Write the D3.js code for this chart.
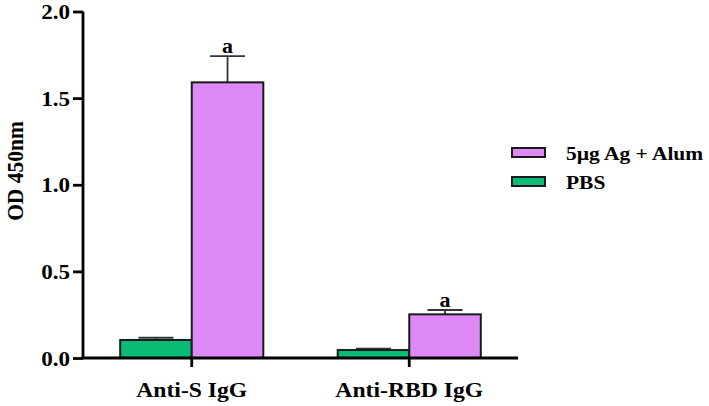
<!DOCTYPE html>
<html>
<head>
<meta charset="utf-8">
<script src="https://cdn.jsdelivr.net/npm/d3@7"></script>
<style>
  html, body { margin: 0; padding: 0; background: #fff; }
  svg { display: block; }
  text { font-family: "Liberation Serif", "Times New Roman", serif; font-weight: bold; fill: #000; }
</style>
</head>
<body>
<svg id="chart" width="709" height="406"></svg>
<script>
// ---- data ----
const categories = ["Anti-S IgG", "Anti-RBD IgG"];
const seriesNames = ["PBS", "5µg Ag + Alum"];
const pbsValues = [0.104, 0.046];
const pbsErrors = [0.013, 0.008];
const agValues = [1.591, 0.252];
const agErrors = [0.152, 0.025];
const sigLabels = ["a", "a"];
const yTicks = [0, 0.5, 1.0, 1.5, 2.0];
const yLabel = "OD 450nm";
const legendOrder = ["5µg Ag + Alum", "PBS"];

const colors = { "PBS": "#08bc78", "5µg Ag + Alum": "#dd89f6" };
const SX = 1.1; // horizontal stretch of the original figure's text

const svg = d3.select("#chart");
const plotLeft = 83, plotRight = 518, plotTop = 11.5, plotBottom = 358;

const x = d3.scaleBand().domain(categories).range([plotLeft, plotRight]).paddingInner(0.342).paddingOuter(0.171);
const xs = d3.scaleBand().domain(seriesNames).range([0, x.bandwidth()]).padding(0);
const y = d3.scaleLinear().domain([0, 2]).range([plotBottom, plotTop]);

const rows = categories.map((c, i) => ({
  cat: c,
  items: [
    { s: "PBS", v: pbsValues[i], e: pbsErrors[i] },
    { s: "5µg Ag + Alum", v: agValues[i], e: agErrors[i], sig: sigLabels[i] }
  ]
}));

// bars
const g = svg.append("g");
rows.forEach(r => {
  r.items.forEach(d => {
    const bx = x(r.cat) + xs(d.s);
    const cx = bx + xs.bandwidth() / 2;
    const capW = 35;
    g.append("line").attr("x1", cx).attr("x2", cx)
      .attr("y1", y(d.v)).attr("y2", y(d.v + d.e))
      .attr("stroke", "#333").attr("stroke-width", 1.8);
    g.append("line").attr("x1", cx - capW / 2).attr("x2", cx + capW / 2)
      .attr("y1", y(d.v + d.e)).attr("y2", y(d.v + d.e))
      .attr("stroke", "#333").attr("stroke-width", 1.8);
    g.append("rect")
      .attr("x", bx).attr("y", y(d.v))
      .attr("width", xs.bandwidth()).attr("height", y(0) - y(d.v))
      .attr("fill", colors[d.s]).attr("stroke", "#1a1a1a").attr("stroke-width", 2);
    if (d.sig) {
      g.append("text")
        .attr("transform", `translate(${cx},${y(d.v + d.e) - 3.5}) scale(${SX},1)`)
        .attr("text-anchor", "middle").attr("font-size", 20).text(d.sig);
    }
  });
});

// y axis
const yAxis = svg.append("g").attr("transform", `translate(${plotLeft},0)`)
  .call(d3.axisLeft(y).tickValues(yTicks).tickFormat(d3.format(".1f")).tickSize(10).tickPadding(3));
yAxis.select(".domain").attr("stroke", "#000").attr("stroke-width", 2.8)
  .attr("d", `M0,${plotTop}V${plotBottom}`);
yAxis.selectAll(".tick line").attr("stroke", "#000").attr("stroke-width", 2.8);
yAxis.selectAll(".tick text")
  .attr("font-family", "'Liberation Serif', 'Times New Roman', serif")
  .attr("font-weight", "bold").attr("font-size", 21).attr("fill", "#000")
  .attr("x", -13 / SX).attr("dy", "0.34em")
  .attr("transform", `scale(${SX},1)`);

// x axis
const xAxis = svg.append("g").attr("transform", `translate(0,${plotBottom})`)
  .call(d3.axisBottom(x).tickSize(9).tickPadding(0).tickFormat(""));
xAxis.select(".domain").attr("stroke", "#000").attr("stroke-width", 2.8)
  .attr("d", `M${plotLeft - 1.4},0H${plotRight}`);
xAxis.selectAll(".tick line").attr("stroke", "#000").attr("stroke-width", 2.8);
categories.forEach(c => {
  svg.append("text")
    .attr("transform", `translate(${x(c) + x.bandwidth() / 2},397) scale(${SX},1)`)
    .attr("text-anchor", "middle").attr("font-size", 21.5).text(c);
});

// y label
svg.append("text")
  .attr("transform", `translate(23,171) rotate(-90) scale(1,${SX})`)
  .attr("text-anchor", "middle").attr("font-size", 21.5).text(yLabel);

// legend
const legend = svg.append("g");
legendOrder.forEach((s, i) => {
  const ly = 148 + i * 29;
  legend.append("rect").attr("x", 512).attr("y", ly).attr("width", 33).attr("height", 9)
    .attr("fill", colors[s]).attr("stroke", "#1a1a1a").attr("stroke-width", 2);
  legend.append("text")
    .attr("transform", `translate(566,${ly + 12}) scale(${SX},1)`)
    .attr("font-size", 19.5).text(s);
});
</script>
</body>
</html>
